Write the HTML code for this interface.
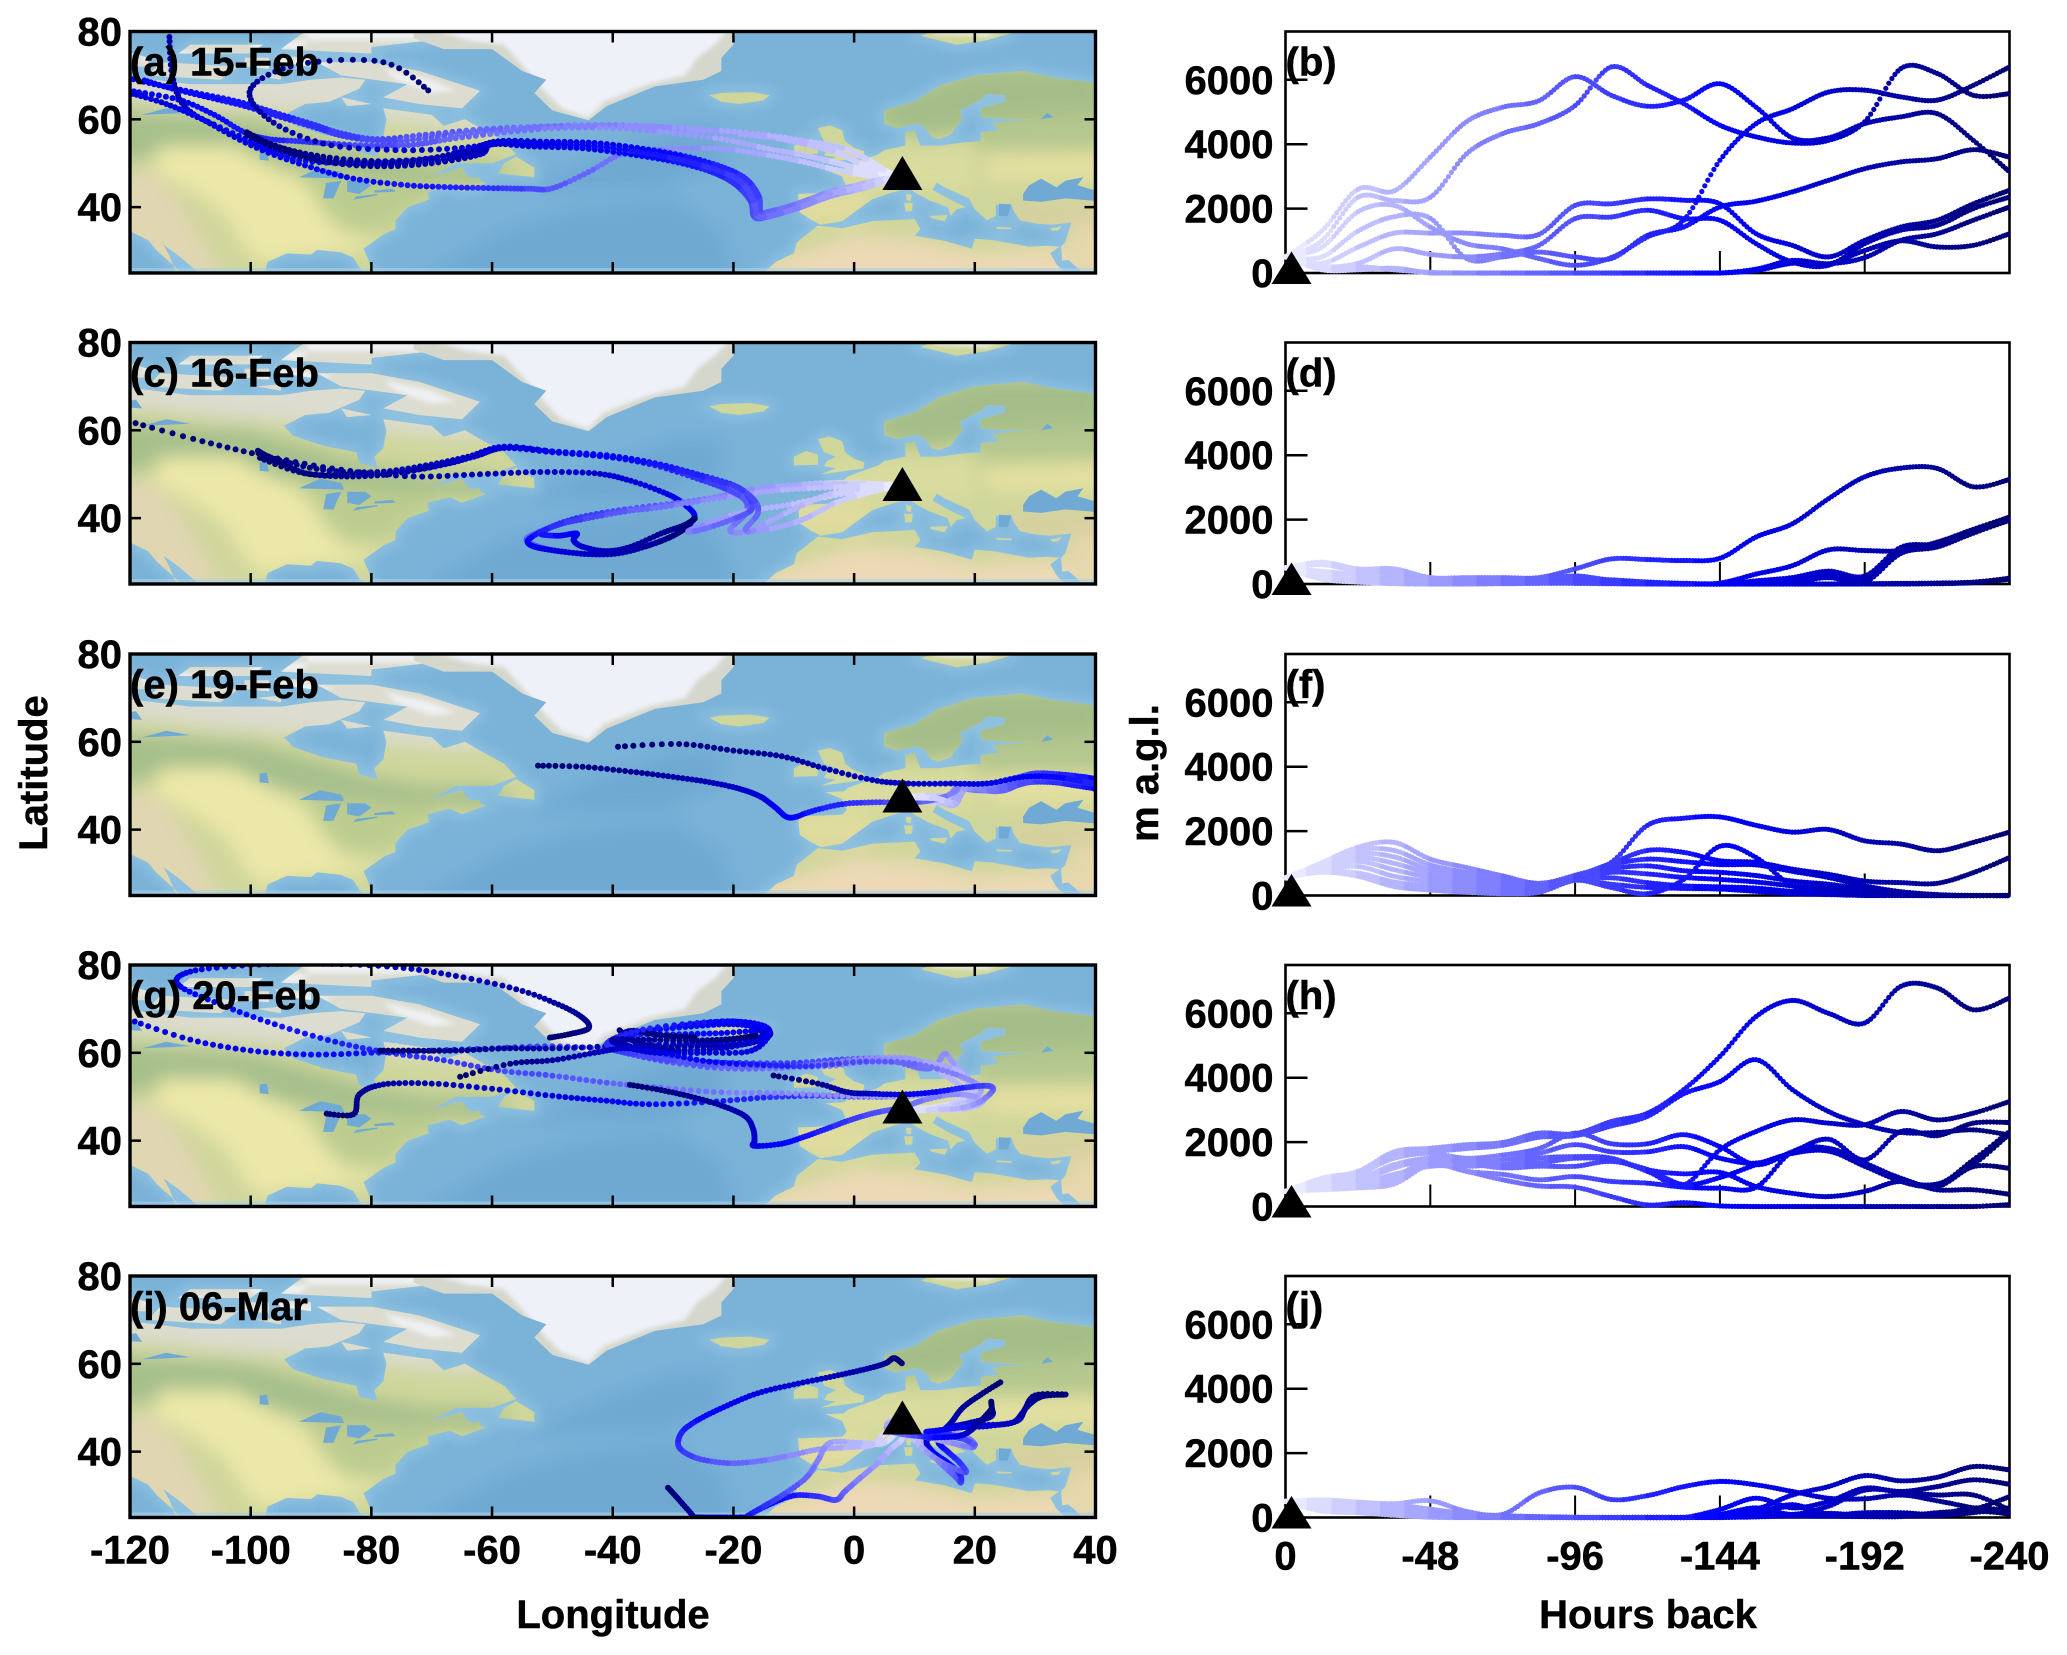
<!DOCTYPE html>
<html lang="en">
<head>
<meta charset="utf-8">
<title>Back trajectories and heights</title>
<style>
html,body{margin:0;padding:0;background:#fff;}
body{width:2067px;height:1655px;overflow:hidden;}
svg{display:block;}
text{font-family:"Liberation Sans",Arial,sans-serif;font-weight:bold;font-size:40px;fill:#000;stroke:#000;stroke-width:0.5px;}
</style>
</head>
<body>
<svg id="fig" xmlns="http://www.w3.org/2000/svg" width="2067" height="1655" viewBox="0 0 2067 1655">
  <defs id="defs">
    <filter id="blurZone" x="-20%" y="-20%" width="140%" height="140%"><feGaussianBlur stdDeviation="9"/></filter>
    <filter id="blurShelf" x="-20%" y="-20%" width="140%" height="140%"><feGaussianBlur stdDeviation="6"/></filter>
    <filter id="blurIce" x="-20%" y="-20%" width="140%" height="140%"><feGaussianBlur stdDeviation="2.5"/></filter>
  </defs>
  <rect width="2067" height="1655" fill="#fff"/>
  <text transform="translate(47,773) rotate(-90)" text-anchor="middle">Latitude</text>
  <text transform="translate(1158,773) rotate(-90)" text-anchor="middle">m a.g.l.</text>
  <text x="613" y="1628" text-anchor="middle">Longitude</text>
  <text x="1648" y="1628" text-anchor="middle">Hours back</text>
</svg>
<script>
// ---------- axis tick labels ----------
const lonTicks = [-120,-100,-80,-60,-40,-20,0,20,40];
const latTicks = [80,60,40];
const hourTicks = [0,-48,-96,-144,-192,-240];
const heightTicks = [0,2000,4000,6000];

// ---------- panel names ----------
const mapLabels = ['(a) 15-Feb','(c) 16-Feb','(e) 19-Feb','(g) 20-Feb','(i) 06-Mar'];
const heightLabels = ['(b)','(d)','(f)','(h)','(j)'];
const siteLon = 8;

// ---------- trajectories [lon,lat], equal time steps from site backwards ----------
const trajA = [
 [[8,46.5],[5,48],[1,50],[-3,52.5],[-7,54],[-12,55.5],[-18,56.5],[-26,57.5],[-35,58.5],[-44,58.7],[-53,58.3],[-62,57.7],[-71,56.5],[-79,55.5],[-85,56.8],[-90,59],[-96,61.5],[-102,64],[-109,66],[-116,68],[-122,70]],
 [[8,46.5],[5,48.5],[2,51],[-2,53.5],[-8,55],[-15,56.5],[-23,57.5],[-32,58.3],[-41,58.5],[-50,58.3],[-60,57.5],[-69,56],[-77,55],[-84,56],[-89,58],[-95,60.5],[-101,63],[-107,65],[-113,67],[-118,69]],
 [[8,46.5],[4,47.5],[0,49],[-4,50.5],[-9,52],[-15,53.5],[-22,55.5],[-31,57],[-40,58],[-49,58],[-58,57],[-67,55.5],[-73,54.2],[-80,54],[-87,54.5],[-92,55],[-97,55.5],[-101,57],[-106,61],[-112,64.5],[-120,66.5]],
 [[8,46.5],[3,47],[-3,48.5],[-9,50.5],[-15,52],[-22,53.3],[-30,53.3],[-38,52.3],[-44,48],[-50,44.3],[-54,44.2],[-59,44.3],[-66,44.5],[-74,45],[-83,46.5],[-91,49.5],[-99,53.5],[-106,58.5],[-111,63],[-113,70],[-113.5,79.5]],
 [[8,46.5],[6,46.3],[4,45.8],[2,45],[-1,44],[-4,42.5],[-9,41],[-14,38.5],[-16,38],[-16.6,41],[-18.5,45.5],[-23,48.5],[-29,51],[-36,52.6],[-44,54],[-52,54.2],[-59,54.5],[-66,52],[-75,50.3],[-84,50],[-93,51],[-100,55],[-108,60],[-114,63.5],[-120,66]],
 [[8,46.5],[6,46.5],[4,46.2],[2,45.5],[-1,44.5],[-4,43.5],[-7,42],[-10,40.5],[-14,39],[-15.5,38.8],[-15.8,42.5],[-18,46.5],[-22,49.2],[-28,51.6],[-35,53.3],[-43,54.6],[-51,54.9],[-59,55],[-64,53],[-71,51],[-80,50.5],[-89,51.7],[-96,54],[-101,57.3]],
 [[8,46.5],[6,46],[4,45.4],[2,44.5],[-1,43.5],[-4,42.5],[-7,41],[-10,39.5],[-14,37.9],[-16.5,37.7],[-17.2,41.5],[-20,45.5],[-24,48.2],[-30,50.4],[-37,52],[-45,53.4],[-53,53.8],[-60,54.3],[-62,52],[-70,50],[-79,49.3],[-88,50.4],[-95,53],[-101,56.7]],
 [[8,46.5],[6,46.3],[4,45.8],[2,45],[-1,44],[-4,43],[-7,41.5],[-10,40],[-14,38.5],[-16,38.3],[-16.5,42],[-19,46],[-23,48.7],[-29,51],[-36,52.8],[-44,54],[-52,54.3],[-59,54.8],[-63,52.5],[-70,50.5],[-79,49.8],[-88,51],[-95,53.5],[-101,57]],
 [[8,46.5],[6,46.2],[4,45.5],[2,44.8],[-1,44],[-4,43],[-7,41],[-10,39.5],[-14,38],[-16,38],[-16.7,41.5],[-19,46],[-23,48.5],[-29,50.8],[-36,52.5],[-44,54],[-52,54.5],[-58,54.8],[-65,53.5],[-76,53],[-88,54.5],[-97,60],[-100,67],[-92,72.5],[-78,73],[-70,66]]
];
const trajC = [
 [[8,47.5],[3,47.8],[-3,48],[-10,47.5],[-17,46],[-25,44],[-32,43],[-40,41.5],[-47,39.5],[-52,37],[-54.3,35],[-51,33],[-46,32],[-41,31.8],[-36,33],[-30,36],[-26.5,40],[-28,43],[-31,45.5],[-37,48.5],[-43,50.2],[-52,50.5],[-62,50],[-73,49.5],[-85,51],[-97,54],[-108,57.5],[-120,62]],
 [[8,47.5],[3,47.8],[-3,47.8],[-10,47.5],[-17,46.5],[-24,44.5],[-31,43.2],[-39,41.8],[-46,40],[-51,37.5],[-54,35],[-53,33.5],[-49,32.5],[-44,31.8],[-39,32],[-34,33.8],[-30,36],[-27,38.5]],
 [[8,47.5],[3,47.5],[-4,47],[-11,46.5],[-18,45.5],[-25,44],[-32,42.5],[-38,41.5],[-44,40],[-49,38.5],[-52,36.5],[-49,36],[-46,36.5],[-46.5,35],[-45,33.5],[-41,32.5],[-37,33.5],[-32,36.5],[-28,38.5],[-26.3,40]],
 [[8,47.5],[3,46],[-3,43.5],[-8,40],[-13,37.8],[-19,36.7],[-20.5,37.5],[-18,41],[-18,44],[-21,46.5],[-26,49],[-33,52],[-41,54],[-50,55],[-58,56],[-62,54.5],[-67,52.5],[-74,50.7],[-82,50],[-90,50],[-95,52.5],[-99,55]],
 [[8,47.5],[3,46.5],[-4,45],[-11,43],[-18,41.5],[-24,39],[-27.5,37],[-25,37.5],[-20,39.8],[-17,42],[-17.5,45],[-20,47.5],[-26,50],[-33,52.5],[-41,54.3],[-50,55.2],[-58,56],[-63,54],[-69,52],[-77,50],[-85,49.5],[-92,50.5],[-99,54]],
 [[8,47.5],[3,47],[-4,45.5],[-10,42],[-15,38.5],[-17,37],[-18,37.5],[-16,41],[-16.5,44],[-19.5,47],[-25,49.5],[-32,52],[-40,53.8],[-49,55],[-58,56.3],[-64,54],[-71,52],[-79,50.5],[-88,51],[-96,53.5],[-99,55.5]]
];
const trajE = [
 [[8,47.3],[11,47.5],[14,47.5],[16,47],[17,48],[18,49.5],[21,50.3],[24,50.6],[27,51.8],[30,52.8],[34,52.6],[38,52],[41,51.2],[44,50],[47,50],[50,50],[53,50],[56,50],[59,50],[62,50],[65,50]],
 [[8,47.3],[11,47],[14,46.5],[15.5,45.8],[16,47.5],[17,49.5],[20,49],[23.5,49],[26,50],[29,50.8],[33,50.8],[37,50],[41,49.2],[44,49],[47,49],[50,50],[53,50],[56,50],[59,50],[62,50],[65,50]],
 [[8,47.3],[11,47.7],[14,47.7],[17,47],[18,49],[19.5,50.2],[22,50],[25,50],[27,51.5],[30,52],[34,51.8],[38,51.2],[41,50.2],[44,49],[47,49],[50,49],[53,49],[56,49],[59,49],[62,49],[65,49]],
 [[8,47.3],[11,46.8],[14,46.2],[16,46],[17.5,48.5],[19,49.5],[22.5,48.8],[25,49],[27.5,50.3],[31,51.2],[35,50.6],[39,49.7],[41,48.8],[44,49],[47,49],[50,49],[53,49],[56,49],[59,49],[62,49],[65,49]],
 [[8,47],[11,46.5],[14,46.2],[16.5,45.6],[17.5,47.5],[18,49.5],[15,47.5],[12,46.5],[8,46.2],[3,46.2],[-2,45.8],[-7,44.2],[-10.7,42.7],[-13,45],[-15.5,47.5],[-19,49.3],[-24,50.8],[-30,52],[-37,53.2],[-45,54.3],[-53,54.6]],
 [[8,47.3],[11,47.3],[14,47],[16.5,46],[17.2,47],[18.5,49.5],[20,50],[23,50.3],[26,51.5],[29,52],[33,51.8],[37,51],[40,50.5],[37,51.2],[33,52],[28,52],[22,50.5],[16,50.5],[9,50.5],[3,51.3],[-5,54],[-12,56.7],[-20,58],[-29,59.5],[-40,58.8]]
];
const trajG = [
 [[8,47],[13,47],[18,47.2],[21,48.5],[21,50],[18,51],[12,50.5],[6,50],[0,50],[-7,50.2],[-15,49.8],[-24,48.8],[-34,48.3],[-42,49.2],[-50,50.2],[-60,51.8],[-70,53],[-78,52.8],[-82,50.5],[-83,46],[-87.8,46.2]],
 [[8,47],[14,47.5],[19,48],[21,50],[18,51],[12,50.5],[5,50],[-3,50.3],[-12,50.8],[-22,51],[-32,52],[-41,53.2],[-50,54.8],[-59,56],[-68,58.3],[-77,60],[-86,62.5],[-96,66.5],[-105,71],[-112,75.5],[-110,78.5],[-100,80],[-88,80.3],[-76,79.5],[-66,77.5],[-56,74.5],[-49,71],[-45,68],[-44,65.6],[-47,64.3],[-50.7,63.4]],
 [[8,47],[14,47.5],[19,49],[20,52],[16,55.5],[9,57.5],[2,57.8],[-6,57.3],[-14,57.3],[-23,57.8],[-32,59],[-40,60.7],[-50,61.5],[-60,61],[-70,60.5],[-80,60],[-90,59.6],[-100,60.5],[-110,63],[-120,67.5]],
 [[8,47],[13,47],[18,48],[20,50.5],[19,54],[16.5,57.5],[15,59.8],[13.5,57],[11,56.5],[5,58.5],[-2,58.5],[-10,57.7],[-19,57.7],[-28,58.2],[-35,59.5],[-40,61.5],[-38,63.8],[-30,65.8],[-21,67.2],[-15.5,66],[-14,64],[-18,62],[-25,61.5],[-33,61.5],[-37,63],[-39,65.3]],
 [[8,47],[13,47.5],[17,48.5],[18.5,51],[15,55],[10,58.5],[3,58.8],[-5,57.5],[-13,56.5],[-22,56.5],[-31,58],[-38,60],[-41,61.5],[-38,64],[-30,64.2],[-22,64.5],[-15,65],[-15,63.5],[-22,62.5],[-30,62],[-40,61.5],[-50,61],[-58,61],[-66,60.5],[-73,60.5],[-79,60.5]],
 [[8,47],[13,47.3],[18,48.5],[20,51],[18,55],[13,57.5],[7,58.5],[0,58],[-8,57],[-16,57],[-25,57.5],[-33,59],[-39,61],[-40,63],[-35,64.8],[-27,66],[-20,66.5],[-15.5,65.5],[-16,63],[-22,61],[-30,60.5],[-36,61],[-39,63],[-37,65],[-32,64],[-26,63.5]],
 [[8,47],[13,47.6],[17,49],[19,52],[17,56],[11,58],[4,58.2],[-4,57],[-12,56.8],[-21,56.8],[-30,58.4],[-37,60],[-41,62],[-36,65],[-26,66.8],[-18,67],[-14,65],[-17,60.5],[-25,60],[-33,60],[-38,61.5],[-40,63],[-34,63],[-26,62.8],[-20,63.2],[-16,64]],
 [[8,47],[14,47.5],[19,49],[21,52],[17,55],[10,57.5],[2,58],[-7,57],[-15,57.2],[-24,58],[-32,60],[-38,61],[-43,60],[-50,58.3],[-57,57.5],[-66,54.3]],
 [[8,47],[13,47],[17,47.5],[20,48.5],[20,50],[16,50.5],[11,49],[8,47.5],[4,46.5],[0,45],[-4,43],[-8,41],[-12,39.3],[-16.5,38.8],[-16.5,40],[-16.7,42.5],[-18,45.5],[-22,48],[-27,50],[-32,51.5],[-37.6,52.8]],
 [[8,47],[13,47],[18,47.5],[21,49],[23,51.5],[22,52.5],[18,52],[13,51],[8,50.5],[3,50.7],[-1,51],[-6,53],[-14,55]]
];
const trajI = [
 [[8,46],[5,44],[3,41.5],[-1,41],[-6,40.5],[-11,39],[-16,37.8],[-21,37.4],[-26,38.5],[-29,41],[-28.5,44.5],[-25.5,47.5],[-21,50.5],[-16,53.3],[-10,55.3],[-4,57],[1,58.5],[5,60],[6.6,61.3],[8,60]],
 [[8,46],[8,43],[6,40.5],[4,37.5],[1,34],[-1.5,31],[-3,29],[-6,29.8],[-10,30],[-14,28],[-18,25],[-22,20],[-25,22],[-26.5,25],[-29,29],[-31,32]],
 [[8,46],[5,42],[1,42],[-4,42],[-6,38],[-8,34],[-12,30],[-15,27.5],[-18,25],[-19,24]],
 [[8,46],[9,44.5],[11,42.5],[12,41],[13.5,38.5],[15,36.5],[17,34],[17.7,33],[17.5,35],[15.5,37.5],[13,40],[12,42.5],[14,44],[16,46.5],[18,50],[21,53],[24.5,56]],
 [[8,46],[9,44],[10.5,42],[12,40],[14,38],[16,36.5],[18.5,35.3],[17.5,37.5],[15.5,40],[14,42],[14.5,43.5],[16,45.5],[19,46.5],[22.7,48],[22.8,50],[22.7,51.5]],
 [[8,46],[10,44],[13,43],[16,42],[19.7,41],[19,42.5],[16,43.5],[13,44.3],[17,45.5],[22,45.8],[27,47],[28.5,50],[31,52.5],[35,53]],
 [[8,46],[11,44],[14,43],[17,44],[19,43],[20,41.5],[18,43],[14,44.5],[12,44.5],[16,45.2],[21,46],[26,46.5],[28,49],[30,52.8],[35.5,53]],
 [[8,46],[6,47],[5.5,45],[8,44],[11,43.5],[13,43.2],[17,43.5],[19,44.5],[21,47],[23,50]]
];
// age (hours) reached at the last waypoint of each trajectory
const endHoursA = [155,155,155,205,170,240,240,240,240];
const endHoursC = [240,240,240,240,240,240];
const endHoursE = [240,240,240,240,240,240];
const endHoursG = [240,240,170,240,240,240,240,240,240,240];
const endHoursI = [240,240,150,240,240,240,240,240];

// ---------- heights (m a.g.l.) every 12 h from 0 to -240 ----------
const heightsB = [
 [500,1300,2600,2550,3600,4700,5150,5350,6100,5520,5180,5370,5880,5150,4200,4200,4640,4850,4950,4120,3140],
 [500,1000,2350,2250,2350,3700,4330,4640,5200,6400,5830,5260,4590,4230,4040,4120,4700,6350,6200,5520,5570],
 [500,800,1900,2100,1430,910,750,450,240,480,1120,1640,3500,4640,5100,5620,5680,5470,5370,5830,6400],
 [500,500,1300,1750,1700,450,500,650,500,450,1170,1430,2050,2230,2520,2880,3240,3450,3550,3830,3600],
 [500,300,800,1240,1240,1240,1170,1200,2100,2150,2300,2260,2150,1220,860,500,1015,1430,1640,2150,2570],
 [500,200,300,750,580,500,600,860,1690,1740,1950,1690,1640,910,340,240,910,1330,1480,2000,2360],
 [500,100,100,150,0,0,0,0,0,0,0,0,0,120,390,290,480,1015,1220,1640,2050],
 [500,150,200,100,20,0,0,0,0,0,0,0,0,80,300,280,700,1000,810,860,1220]
];
const heightsD = [
 [500,680,470,470,200,200,200,200,470,780,760,730,800,1460,1870,2650,3330,3600,3590,3020,3245],
 [500,600,400,330,150,150,150,150,250,120,60,20,30,310,570,1060,1040,1040,1300,1700,2080],
 [500,400,300,350,100,130,130,120,100,80,30,0,0,100,200,400,250,1140,1250,1660,2030],
 [500,300,200,200,50,60,80,80,150,130,60,20,0,50,100,280,150,1000,1180,1600,2000],
 [500,250,150,100,30,30,30,30,40,20,10,0,0,20,60,200,60,950,1150,1580,1980],
 [500,200,100,40,10,20,30,30,30,15,5,0,0,0,0,0,10,20,30,60,180],
 [500,150,60,10,0,0,10,20,20,10,0,0,0,0,0,0,0,0,10,40,150]
];
const heightsF = [
 [550,1020,1500,1650,1130,870,610,380,630,1030,2180,2400,2440,2180,1970,2050,1700,1600,1390,1650,1970],
 [550,1000,1420,1400,950,720,520,330,600,1000,1400,1340,1080,1030,820,660,450,400,380,710,1180],
 [550,950,1300,1200,800,600,430,280,580,950,1130,1050,960,950,750,560,300,120,30,0,0],
 [550,900,1180,1000,680,520,380,270,560,830,920,770,720,620,450,350,200,60,10,0,0],
 [550,850,1060,800,560,430,320,240,520,720,670,560,500,420,300,220,100,20,0,0,0],
 [550,800,900,600,430,330,240,200,500,550,400,300,270,230,130,100,40,0,0,0,0],
 [550,750,700,420,300,240,190,180,480,250,60,500,1530,1180,300,150,50,10,0,0,0],
 [550,720,600,280,170,100,60,100,470,350,250,220,200,130,60,30,0,0,0,0,0]
];
const heightsH = [
 [470,880,1090,1700,1810,1920,1990,2280,2260,2640,2900,3630,4660,5900,6400,6000,5700,6840,6790,6110,6475],
 [470,800,950,1600,1700,1800,1900,2150,2200,2500,2800,3500,3880,4560,3630,2950,2540,2300,2300,2380,2220],
 [470,750,1000,1500,1650,1500,1600,1800,2280,1950,1950,2230,1860,1300,1700,2090,1450,2330,2200,2590,2610],
 [470,720,850,1300,1500,1400,1450,1650,1920,1700,1700,1860,1500,1350,1660,1780,1350,880,620,1240,1190],
 [470,680,780,1200,1450,1300,1300,1500,1550,1500,1090,670,1760,2330,2690,2590,2540,2950,2690,2900,3260],
 [470,620,700,1000,1250,1250,1300,1350,1500,1450,1140,1015,1060,620,410,310,470,780,520,520,380],
 [470,580,620,800,1400,1100,1000,830,930,780,725,600,570,600,1700,1810,1350,780,670,1450,2330],
 [470,520,580,700,1300,1090,830,640,600,310,50,120,20,0,0,0,0,0,0,0,60],
 [470,560,650,900,1500,1350,1200,1250,1250,1400,1150,680,900,1300,1650,1720,1250,800,700,1300,2250]
];
const heightsJ = [
 [500,550,480,430,520,190,100,760,940,560,680,960,1120,1015,810,600,580,700,520,300,100],
 [500,480,450,400,260,120,60,30,10,0,0,0,60,250,700,960,1300,1140,1250,1580,1480],
 [500,450,400,330,180,90,40,20,0,0,0,0,250,600,300,500,910,810,960,1170,1035],
 [500,400,350,300,130,60,30,10,0,0,0,0,100,300,100,350,850,800,700,700,240],
 [500,350,300,230,90,30,10,0,0,0,0,0,50,150,400,100,150,150,100,250,650],
 [500,300,260,180,60,20,0,0,0,0,0,0,20,100,350,60,120,100,60,150,300],
 [500,250,200,120,30,5,0,0,0,0,0,0,0,50,80,130,60,40,80,300,200],
 [500,200,150,70,10,0,0,0,0,0,0,0,0,20,50,40,30,30,150,200,120]
];
const allTraj = [trajA,trajC,trajE,trajG,trajI];
const allEndHours = [endHoursA,endHoursC,endHoursE,endHoursG,endHoursI];
const allHeights = [heightsB,heightsD,heightsF,heightsH,heightsJ];

// ---------- basemap geography [lon,lat] ----------
const landShapes = [
 [[-122,34.5],[-120,34.5],[-117,32.5],[-115.5,30],[-113,27],[-110,23],[-112,24],[-113.5,29],[-114.5,31.5],[-112,29],[-109,25.5],[-108,23],[-97.5,23],[-97.5,26],[-97.2,27.5],[-94,29.5],[-90,29.2],[-89,30.3],[-85,29.7],[-83,28.5],[-81.5,25.2],[-80,25.5],[-80.5,28],[-81.3,30.5],[-78,33.8],[-76,35],[-76,37],[-74,40],[-70.5,41.7],[-70.7,43.5],[-67,44.8],[-65,43.5],[-61,45.5],[-64,47],[-65,49],[-70,47],[-66,50],[-60,50],[-56,52],[-58,55],[-62,58],[-64.5,60],[-68,58.5],[-70,61],[-78,62.5],[-77.5,60],[-78,56],[-79.5,54],[-79,51.5],[-82,52.5],[-82.5,55],[-88,56.5],[-93,58.8],[-94.5,61],[-91,63.5],[-87,64],[-82,67],[-81,69],[-85,69.5],[-90,69],[-95,68],[-100,68],[-110,68],[-116,69],[-122,70]],
 [[-80,73],[-72,71],[-62,66.5],[-65,62.5],[-72,63.5],[-78,65],[-74,68],[-85,70],[-89,73]],
 [[-117,70],[-105,69],[-102,72],[-115,73]],
 [[-95,76],[-80,75],[-80,76.5],[-70,78],[-62,81],[-90,81]],
 [[-122,72],[-117,72],[-117,74],[-122,76]],
 [[-112,75],[-100,75],[-98,77],[-110,77]],
 [[-95,73],[-90,72],[-90,74],[-96,74.5]],
 [[-101,72],[-97,71.5],[-97,74],[-101,74]],
 [[-99,70],[-95,69],[-95,70.5]],
 [[-85,65],[-80,63.5],[-84,63]],
 [[-59,47.7],[-53,46.8],[-53,49],[-56,51.5],[-58,50]],
 [[-64,46.5],[-62,46],[-62,46.8]],
 [[-24,65.5],[-22,64],[-19,63.5],[-15,64.3],[-14,65.5],[-17,66.2],[-22,66]],
 [[11,79],[17,77],[22,78],[27,80],[15,81]],
 [[-9.3,43],[-9,38.8],[-7,37],[-5.5,36],[-2,36.8],[0,38.8],[3,41.8],[6,43.2],[9,44.3],[10.5,43],[12.5,41.5],[15.5,40],[16,38],[17,39.5],[18.5,40],[15.5,42],[13,44],[13.7,45.6],[15,44.5],[19,42],[20,39.5],[22,37],[23.5,38],[23.5,40.5],[26,40.8],[26.5,39],[27.5,37],[30,36.3],[32.5,36],[36,36.5],[35,32],[34.3,31],[34.5,27.8],[35.5,28],[38,25],[38,23],[42,23],[42,68],[33,69.5],[28,71],[20,70],[14,67.5],[10,64],[5,62],[5,59],[7,58],[10,59],[11.5,58.5],[12.8,56],[14,55.5],[16,56.5],[17,58.5],[18,60],[17.5,62],[21,64.5],[22,65.8],[25,65.5],[25,64],[21,62.5],[21,60.5],[25,60],[30,60],[25,59.5],[23,59],[24,57.5],[21,57],[21,55],[18,54.7],[14,54],[11,54],[10,57.5],[8.5,57],[8.5,54],[5,53],[4,52],[1.5,50.8],[-1,49.5],[-1.7,48.7],[-4.7,48.5],[-2,47],[-1.2,44.5],[-2,43.4]],
 [[-16,23],[-15,25],[-13,27.5],[-10,29.5],[-9.5,32],[-6,35.8],[-2,35.2],[3,36.8],[10,37.3],[11,35],[10,33.5],[15,32.3],[19.5,30.5],[20,32.8],[23,32.5],[29,31],[32,31.2],[34,31],[32.5,29.5],[33.5,27],[35,25],[36,23]],
 [[-5.5,50],[1.5,51.3],[1.7,52.7],[0,53.5],[-1.5,55],[-2,57.5],[-4,58.6],[-6,58],[-5,55],[-3,54],[-4.5,53],[-5,51.8],[-3,51.4]],
 [[-10,52],[-6,52.2],[-6,54.5],[-8,55.3],[-10,54]],
 [[8.6,43],[9.5,42.8],[9.4,41.4],[8.7,41.6]],
 [[8.3,41],[9.7,41],[9.6,39.1],[8.5,39]],
 [[12.5,38],[15.5,38.2],[15,36.8],[12.8,37.5]],
 [[23.5,35.5],[26.2,35.3],[26,35],[23.7,35.1]],
 [[32.5,35.2],[34.4,35.6],[33.8,34.7],[32.8,34.6]]
];
const zoneColors = ['#dcdcd0','#a6bf8c','#ece8a8','#bccc8f','#e0d6b2','#a4bd88','#b4c78e','#e4e0a0','#d9dc9e','#edd9b6','#e6d7ae','#d8cfa0','#e2dc9e'];
const zoneShapes = [
 [[-125,66],[-105,63],[-95,62],[-80,60],[-65,58],[-55,60],[-55,82],[-125,82]],
 [[-125,62],[-100,60],[-90,56],[-80,52],[-70,50],[-60,50],[-56,47],[-62,45],[-75,46],[-85,47],[-95,49],[-105,52],[-115,52],[-125,50]],
 [[-115,54],[-103,54],[-96,49],[-90,44],[-88,38],[-84,33],[-78,33],[-82,30],[-92,29],[-98,27],[-101,31],[-104,38],[-110,44],[-116,48]],
 [[-92,47],[-75,46],[-67,46],[-70,42],[-75,38],[-78,35],[-84,35],[-88,40]],
 [[-125,48],[-116,48],[-112,42],[-109,35],[-106,28],[-104,24],[-110,24],[-125,35]],
 [[4,58],[12,56],[20,58],[32,60],[42,62],[42,72],[20,72],[4,64]],
 [[20,53],[42,53],[42,62],[20,60]],
 [[22,46],[42,46],[42,53],[22,52]],
 [[-5,44],[20,44],[20,54],[-5,52]],
 [[-20,22],[40,22],[40,30.5],[30,30.5],[20,29.5],[10,32.5],[0,33.5],[-8,30],[-13,28]],
 [[35,22],[43,22],[43,37],[36,37]],
 [[26,36],[43,36],[43,41],[26,41]],
 [[-10,36.5],[3,36.5],[3,43],[-10,43.5]]
];
const waterShapes = [
 [[28,41.5],[31,41.2],[35,42],[42,41.2],[42,43],[37,45],[38,46.8],[35,46],[33.5,44.5],[31,46.5],[29,45],[28,43]],
 [[-92,46.8],[-84.5,46.5],[-85,48],[-88.5,49]],
 [[-88,42],[-86.3,42],[-85,46],[-87.5,45.5]],
 [[-84,43.5],[-82,43],[-80,45],[-81,46],[-84,46]],
 [[-83,41.7],[-79,42.7],[-79,43],[-82.5,42.5]],
 [[-79.5,43.3],[-76,43.5],[-76.5,44.2],[-79.5,43.8]],
 [[-98.5,50.8],[-97,50.6],[-97.3,53],[-98.5,52.8]],
 [[-118,61],[-110,61.5],[-114,62.5]],
 [[-124,65.5],[-118,65],[-119,67]],
 [[31,60],[33,60.5],[32,61.5]],
 [[24,40.8],[26,40.5],[25.5,38],[24,38]]
];
const deepShapes = [
 [[-72,24],[-58,35],[-45,40],[-30,42],[-22,35],[-20,24]],
 [[-55,44],[-42,52],[-30,58],[-22,58],[-22,50],[-32,44]]
];
const greenlandCoast = [[-73,78.5],[-68,76],[-60,76],[-55,71],[-51,69],[-53,66],[-50,62],[-44,59.8],[-41,63],[-33,67.5],[-25,69],[-22,71],[-22,74],[-20,77],[-19.5,81],[-73,81]];
const greenlandIce = [[-71,81],[-64,78],[-58,77],[-53.5,70],[-51,66],[-48.5,62.5],[-44,60.3],[-41.5,64],[-34,68],[-28,70],[-26,74],[-23,77],[-20.5,81]];
const sheetIce = [[[-118,73],[-108,73.5],[-104,75],[-118,76]],[[-100,72],[-90,71],[-86,72.5],[-95,74]],[[-90,78],[-72,78],[-68,81],[-92,81]],[[-78,71.5],[-70,69],[-66,66.5],[-70,66],[-76,69]],[[-100,76],[-92,76],[-90,78],[-100,78]],[[13,79.5],[22,79],[24,80],[14,81]]];

// ---------- layout ----------
const svgNS = 'http://www.w3.org/2000/svg';
const svg = document.getElementById('fig');
const defs = document.getElementById('defs');
const mapLeft = 130, mapW = 965.5, plotH = 241.5;
const rowTops = [31.5,342.5,654,965,1276];
const heightLeft = 1285.5, heightW = 724;

function mk(tag, attrs, parent) {
  const el = document.createElementNS(svgNS, tag);
  for (const k in attrs) el.setAttribute(k, attrs[k]);
  if (parent) parent.appendChild(el);
  return el;
}
const lonX = lon => (lon + 120) / 160 * mapW;
const latY = lat => (80 - lat) / 55 * plotH;
const hourX = h => h / 240 * heightW;
const valY = v => plotH - Math.max(0, v) / 7500 * plotH;
const polyPts = s => s.map(p => lonX(p[0]).toFixed(1) + ',' + latY(p[1]).toFixed(1)).join(' ');

function ageColor(hour) {
  let r, g, b;
  if (hour <= 144) {
    const f = hour / 144;
    r = 240 * (1 - f); g = 240 * (1 - f); b = 255;
  } else {
    const f = (hour - 144) / 96;
    r = 0; g = 0; b = 255 - 145 * f;
  }
  return 'rgb(' + Math.round(r) + ',' + Math.round(g) + ',' + Math.round(b) + ')';
}

function spline(p0, p1, p2, p3, t) {
  const t2 = t * t, t3 = t2 * t;
  return 0.5 * (2 * p1 + (p2 - p0) * t + (2 * p0 - 5 * p1 + 4 * p2 - p3) * t2 + (3 * p1 - p0 - 3 * p2 + p3) * t3);
}

// draws time-coloured dots along waypoints (xy already in pixels)
function drawDots(group, xy, perStep, width, endHour) {
  const buckets = {};
  const n = xy.length;
  for (let i = 0; i < n - 1; i++) {
    const a = xy[Math.max(0, i - 1)], b = xy[i], c = xy[i + 1], d = xy[Math.min(n - 1, i + 2)];
    for (let s = 0; s < perStep; s++) {
      const t = s / perStep;
      const x = spline(a[0], b[0], c[0], d[0], t);
      const y = Math.min(spline(a[1], b[1], c[1], d[1], t), plotH);
      const hour = (i + t) / (n - 1) * endHour;
      const key = Math.floor(hour / 8);
      buckets[key] = (buckets[key] || '') + 'M' + x.toFixed(1) + ' ' + y.toFixed(1) + 'h.01';
    }
  }
  Object.keys(buckets).map(Number).sort((p, q) => p - q).forEach(k => {
    mk('path', {d: buckets[k], fill: 'none', stroke: ageColor(k * 8 + 4), 'stroke-width': width, 'stroke-linecap': 'round'}, group);
  });
}

// ---------- shared basemap ----------
const base = mk('g', {id: 'basemap'}, defs);
const landClip = mk('clipPath', {id: 'landClip'}, defs);
landShapes.forEach(s => mk('polygon', {points: polyPts(s)}, landClip));
const coastClip = mk('clipPath', {id: 'gClip'}, defs);
mk('polygon', {points: polyPts(greenlandCoast)}, coastClip);
const panelClip = mk('clipPath', {id: 'panelClip'}, defs);
mk('rect', {x: 0, y: 0, width: mapW, height: plotH}, panelClip);

mk('rect', {x: 0, y: 0, width: mapW, height: plotH, fill: '#7ab2d8'}, base);
const deepG = mk('g', {filter: 'url(#blurZone)', opacity: 0.4}, base);
deepShapes.forEach(s => mk('polygon', {points: polyPts(s), fill: '#5f9ccb'}, deepG));
const shelfG = mk('g', {filter: 'url(#blurShelf)', opacity: 0.6}, base);
landShapes.forEach(s => mk('polygon', {points: polyPts(s), fill: '#9ccbe6', stroke: '#9ccbe6', 'stroke-width': 10}, shelfG));
const landG = mk('g', {'clip-path': 'url(#landClip)'}, base);
mk('rect', {x: -20, y: -20, width: mapW + 40, height: plotH + 40, fill: '#cfd69b'}, landG);
const zoneG = mk('g', {filter: 'url(#blurZone)'}, landG);
zoneShapes.forEach((s, i) => mk('polygon', {points: polyPts(s), fill: zoneColors[i]}, zoneG));
const iceSheetG = mk('g', {filter: 'url(#blurIce)'}, landG);
sheetIce.forEach(s => mk('polygon', {points: polyPts(s), fill: '#eef0f2'}, iceSheetG));
waterShapes.forEach(s => mk('polygon', {points: polyPts(s), fill: '#6fa9d4'}, base));
mk('polygon', {points: polyPts(greenlandCoast), fill: '#d5d7cc'}, base);
const gIce = mk('g', {'clip-path': 'url(#gClip)'}, base);
mk('polygon', {points: polyPts(greenlandIce), fill: '#eef1f8', filter: 'url(#blurIce)'}, gIce);
mk('rect', {x: 0, y: plotH - 5, width: mapW, height: 5, fill: '#a8d0ea', opacity: 0.6}, base);

// ---------- panels ----------
rowTops.forEach((top, row) => {
  // map panel
  const mapPanel = mk('g', {transform: 'translate(' + mapLeft + ',' + top + ')'}, svg);
  
  
  const clipped = mk('g', {'clip-path': 'url(#panelClip)'}, mapPanel);
  const mapUse = mk('use', {href: '#basemap'}, clipped);
  
  
  allTraj[row].forEach((tr, i) => {
    const g = mk('g', {}, clipped);
    
    
    drawDots(g, tr.map(p => [lonX(p[0]), latY(p[1])]), 8, 6, allEndHours[row][i]);
  });
  const mapFrame = mk('rect', {x: 0, y: 0, width: mapW, height: plotH, fill: 'none', stroke: '#000', 'stroke-width': 3.4}, mapPanel);
  
  
  lonTicks.slice(1, -1).forEach(l => {
    const x = lonX(l);
    const tt = mk('line', {x1: x, x2: x, y1: 0, y2: 11, stroke: '#000', 'stroke-width': 2.5}, mapPanel);
    
    
    const tb = mk('line', {x1: x, x2: x, y1: plotH, y2: plotH - 11, stroke: '#000', 'stroke-width': 2.5}, mapPanel);
    
    
  });
  latTicks.forEach(a => {
    const y = latY(a);
    if (a !== 80) {
      const tl = mk('line', {x1: 0, x2: 11, y1: y, y2: y, stroke: '#000', 'stroke-width': 2.5}, mapPanel);
      
      
      const tr = mk('line', {x1: mapW, x2: mapW - 11, y1: y, y2: y, stroke: '#000', 'stroke-width': 2.5}, mapPanel);
      
      
    }
    const lab = mk('text', {x: -8, y: y + 14, 'text-anchor': 'end'}, mapPanel);
    
    
    lab.textContent = a;
  });
  const tri = mk('polygon', {points: (lonX(siteLon)) + ',124.5 ' + (lonX(siteLon) - 20) + ',158.5 ' + (lonX(siteLon) + 20) + ',158.5', fill: '#000'}, mapPanel);
  
  
  const mapLab = mk('text', {x: 0, y: 44}, mapPanel);
  
  
  mapLab.textContent = mapLabels[row];
  if (row === 4) {
    lonTicks.forEach(l => {
      const lab = mk('text', {x: lonX(l), y: plotH + 46, 'text-anchor': 'middle'}, mapPanel);
      
      
      lab.textContent = l;
    });
  }

  // height panel
  const hp = mk('g', {transform: 'translate(' + heightLeft + ',' + top + ')'}, svg);
  
  
  const frame = mk('rect', {x: 0, y: 0, width: heightW, height: plotH, fill: '#fff', stroke: '#000', 'stroke-width': 2.6}, hp);
  
  
  heightTicks.forEach(v => {
    if (v > 0) {
      const t = mk('line', {x1: 0, x2: 22, y1: valY(v), y2: valY(v), stroke: '#000', 'stroke-width': 2.5}, hp);
      
      
    }
    const lab = mk('text', {x: -12, y: valY(v) + 14, 'text-anchor': 'end'}, hp);
    
    
    lab.textContent = v;
  });
  hourTicks.slice(1, -1).forEach(h => {
    const t = mk('line', {x1: hourX(-h), x2: hourX(-h), y1: plotH, y2: plotH - 22, stroke: '#000', 'stroke-width': 2}, hp);
    
    
  });
  allHeights[row].forEach(series => {
    const g = mk('g', {}, hp);
    
    
    drawDots(g, series.map((v, i) => [hourX(i * 12), valY(v)]), 12, 5.2, 240);
  });
  const tri2 = mk('polygon', {points: '6,220 -14,252.5 26,252.5', fill: '#000'}, hp);
  
  
  const hLab = mk('text', {x: 0, y: 44}, hp);
  
  
  hLab.textContent = heightLabels[row];
  if (row === 4) {
    hourTicks.forEach(h => {
      const lab = mk('text', {x: hourX(-h), y: plotH + 52, 'text-anchor': 'middle'}, hp);
      
      
      lab.textContent = h;
    });
  }
});
</script>
</body>
</html>
